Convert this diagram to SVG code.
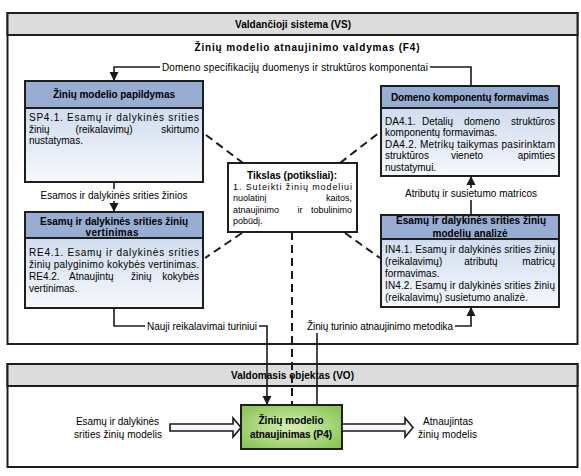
<svg xmlns="http://www.w3.org/2000/svg" width="581" height="476" viewBox="0 0 581 476">
<defs>
<linearGradient id="body" x1="0" y1="0" x2="0" y2="1"><stop offset="0" stop-color="#c3d2ea"/><stop offset="1" stop-color="#f6f8fc"/></linearGradient>
<radialGradient id="green" cx="0.5" cy="0.5" r="0.6"><stop offset="0" stop-color="#d6efb5"/><stop offset="1" stop-color="#8cc759"/></radialGradient>
<marker id="ah" markerWidth="10" markerHeight="10" refX="9" refY="5" orient="auto" markerUnits="userSpaceOnUse"><path d="M0,0.5 L9,5 L0,9.5 Z" fill="#1a1a1a"/></marker>
<style>
.frame{fill:#fff;stroke:#1e1e1e;stroke-width:2}
.band{fill:#dcdcdc;stroke:#1e1e1e;stroke-width:2}
.hdr{fill:#97aed2;stroke:#1e1e1e;stroke-width:2}
.bod{fill:url(#body);stroke:#1e1e1e;stroke-width:2}
.goal{fill:#fff;stroke:#1e1e1e;stroke-width:2}
.p4{fill:url(#green);stroke:#1e1e1e;stroke-width:2}
text{font-family:"Liberation Sans",Arial,sans-serif;font-size:10px;fill:#000}
.b{font-weight:bold}
.c{text-anchor:middle}
.e{text-anchor:end}
.s{font-size:9px}
.ln{fill:none;stroke:#1a1a1a;stroke-width:1.6}
.dash{fill:none;stroke:#1a1a1a;stroke-width:2;stroke-dasharray:8 5}
.hollow{fill:#f4f8fd;stroke:#1a1a1a;stroke-width:1.6}
</style>
</defs>

<g id="vs">
<rect class="frame" x="7.5" y="13" width="570" height="331"/>
<rect class="band" x="7.5" y="13" width="570" height="22"/>
<text class="b c" x="293" y="28" textLength="116">Valdančioji sistema (VS)</text>
<text class="b c" x="307" y="51" textLength="225">Žinių modelio atnaujinimo valdymas (F4)</text>
</g>

<g id="sp">
<rect class="bod" x="25" y="81" width="178" height="101"/>
<rect class="hdr" x="25" y="81" width="178" height="27"/>
<text class="b c" x="114" y="98" textLength="122">Žinių modelio papildymas</text>
<text x="29" y="121" textLength="170" lengthAdjust="spacing">SP4.1. Esamų ir dalykinės srities</text>
<text x="29" y="132.5">žinių</text><text class="c" x="104" y="132.5">(reikalavimų)</text><text class="e" x="199" y="132.5">skirtumo</text>
<text x="29" y="144">nustatymas.</text>
</g>

<g id="re">
<rect class="bod" x="25" y="212" width="178" height="96"/>
<rect class="hdr" x="25" y="212" width="178" height="26"/>
<text class="b c" x="114" y="224.5" textLength="148">Esamų ir dalykinės srities žinių</text>
<text class="b c" x="112" y="235.5" textLength="53">vertinimas</text>
<text x="29" y="256" textLength="170" lengthAdjust="spacing">RE4.1. Esamų ir dalykinės srities</text>
<text x="29" y="268" textLength="170" lengthAdjust="spacing">žinių palyginimo kokybės vertinimas.</text>
<text x="29" y="280">RE4.2.</text><text x="69" y="280">Atnaujintų</text><text x="131" y="280">žinių</text><text class="e" x="199" y="280">kokybės</text>
<text x="29" y="292">vertinimas.</text>
</g>

<g id="da">
<rect class="bod" x="381" y="86" width="178" height="90"/>
<rect class="hdr" x="381" y="86" width="178" height="22"/>
<text class="b c" x="470" y="101" textLength="158">Domeno komponentų formavimas</text>
<text x="385" y="124.5">DA4.1.</text><text x="422" y="124.5">Detalių</text><text x="464" y="124.5">domeno</text><text class="e" x="555" y="124.5">struktūros</text>
<text x="385" y="136">komponentų formavimas.</text>
<text x="385" y="147.5" textLength="170" lengthAdjust="spacing">DA4.2. Metrikų taikymas pasirinktam</text>
<text x="385" y="159">struktūros</text><text class="c" x="467" y="159">vieneto</text><text class="e" x="555" y="159">apimties</text>
<text x="385" y="170.5">nustatymui.</text>
</g>

<g id="in">
<rect class="bod" x="381" y="215" width="178" height="92"/>
<rect class="hdr" x="381" y="215" width="178" height="24"/>
<text class="b c" x="471" y="224" textLength="150">Esamų ir dalykinės srities žinių</text>
<text class="b c" x="470" y="236.5" textLength="75">modelių analizė</text>
<text x="385" y="252.5" textLength="170" lengthAdjust="spacing">IN4.1. Esamų ir dalykinės srities žinių</text>
<text x="385" y="264.5">(reikalavimų)</text><text class="c" x="481" y="264.5">atributų</text><text class="e" x="555" y="264.5">matricų</text>
<text x="385" y="276.5">formavimas.</text>
<text x="385" y="288.5" textLength="170" lengthAdjust="spacing">IN4.2. Esamų ir dalykinės srities žinių</text>
<text x="385" y="300.5">(reikalavimų) susietumo analizė.</text>
</g>

<g id="goal">
<rect class="goal" x="228" y="163" width="129" height="69"/>
<text class="b c" x="292" y="178.5" textLength="90">Tikslas (potiksliai):</text>
<text class="s" x="233" y="189.5" textLength="119" lengthAdjust="spacing">1. Suteikti žinių modeliui</text>
<text class="s" x="233" y="201">nuolatinį</text><text class="s e" x="352" y="201">kaitos,</text>
<text class="s" x="233" y="212.5">atnaujinimo</text><text class="s c" x="300" y="212.5">ir</text><text class="s e" x="352" y="212.5">tobulinimo</text>
<text class="s" x="233" y="224">pobūdį.</text>
</g>

<g id="vo">
<rect class="frame" x="7.5" y="364" width="570" height="103"/>
<rect class="band" x="7.5" y="364" width="570" height="22"/>
<text class="b c" x="292.5" y="379" textLength="123">Valdomasis objektas (VO)</text>
</g>

<g id="p4">
<rect class="p4" x="241" y="405" width="101" height="44"/>
<text class="b c" x="291" y="424" textLength="65">Žinių modelio</text>
<text class="b c" x="291" y="437.5" textLength="82">atnaujinimas (P4)</text>
</g>

<g id="connectors">
<path class="ln" d="M471,86 V67 H430"/>
<path class="ln" d="M160,67 H114 V81" marker-end="url(#ah)"/>
<text x="162" y="70.5" textLength="266">Domeno specifikacijų duomenys ir struktūros komponentai</text>

<path class="ln" d="M114,182 V189"/>
<path class="ln" d="M114,201 V212" marker-end="url(#ah)"/>
<text class="c" x="114" y="198.5" textLength="147">Esamos ir dalykinės srities žinios</text>

<path class="ln" d="M471,215 V200"/>
<path class="ln" d="M471,188 V176" marker-end="url(#ah)"/>
<text class="c" x="471" y="196.5" textLength="132">Atributų ir susietumo matricos</text>

<path class="ln" d="M114,308 V326 H145"/>
<path class="ln" d="M259,326 H267 V405" marker-end="url(#ah)"/>
<text x="147" y="329.5" textLength="110">Nauji reikalavimai turiniui</text>

<path class="ln" d="M317,405 V333"/>
<path class="ln" d="M455,326 H471 V307" marker-end="url(#ah)"/>
<text x="307" y="329.5" textLength="146">Žinių turinio atnaujinimo metodika</text>

<path class="dash" d="M206,135 L243,163"/>
<path class="dash" d="M340,163 L380,132"/>
<path class="dash" d="M242,233 L205,258"/>
<path class="dash" d="M345,233 L380,258"/>
<path class="dash" d="M292,232 V405"/>

<path class="hollow" d="M170,424 H233 V418 L241,427.5 L233,437 V431 H170 Z"/>
<path class="hollow" d="M342,424 H405 V418 L413,427.5 L405,437 V431 H342 Z"/>
<text class="c" x="117.5" y="425" textLength="83">Esamų ir dalykinės</text>
<text class="c" x="118" y="437.5" textLength="88">srities žinių modelis</text>
<text class="c" x="448" y="425" textLength="50">Atnaujintas</text>
<text class="c" x="447.5" y="437.5" textLength="59">žinių modelis</text>
</g>
</svg>
